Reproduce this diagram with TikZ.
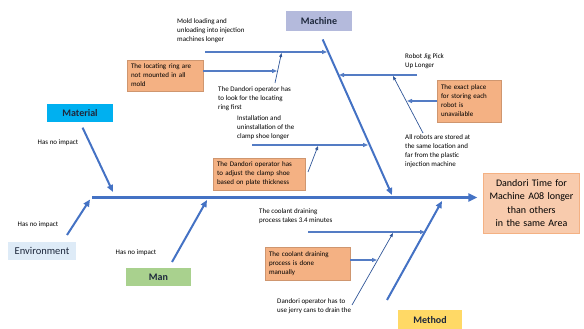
\documentclass[tikz,border=0pt]{standalone}
\usepackage{fontspec}
\setmainfont{Carlito}
\usepackage{tikz}
\usetikzlibrary{arrows.meta}

\definecolor{boneblue}{RGB}{68,114,196}
\definecolor{subblue}{RGB}{84,124,196}
\definecolor{twigblue}{RGB}{47,85,151}
\definecolor{causeorange}{RGB}{244,177,131}
\definecolor{effectorange}{RGB}{248,203,173}
\definecolor{machinefill}{RGB}{180,186,220}
\definecolor{materialfill}{RGB}{0,176,240}
\definecolor{envfill}{RGB}{222,235,247}
\definecolor{manfill}{RGB}{169,209,142}
\definecolor{methodfill}{RGB}{255,217,102}
\definecolor{labeltext}{RGB}{30,40,60}

\begin{document}
\begin{tikzpicture}[x=1pt,y=-1pt,
    catbox/.style={minimum height=18pt,inner sep=2pt,text=labeltext,font=\fontsize{10}{12}\selectfont\bfseries},
    causebox/.style={fill=causeorange,draw=causeorange!85!black,line width=0.3pt,inner sep=4pt,align=left,font=\fontsize{7}{9}\selectfont},
    note/.style={anchor=north west,align=left,inner sep=0pt,font=\fontsize{7}{9}\selectfont},
    spine/.style={line width=3pt,boneblue,-{Triangle[length=9pt,width=8pt]}},
    bone/.style={line width=2pt,boneblue,-{Triangle[length=7pt,width=6pt]}},
    branch/.style={line width=1.1pt,subblue,-{Triangle[length=5pt,width=4pt]}},
    twig/.style={line width=0.7pt,twigblue,-{Triangle[length=4pt,width=3pt]}}]
    \useasboundingbox (0,0) rectangle (584,329);

    % Effect (fish head)
    \node[fill=effectorange,draw=causeorange,line width=0.6pt,text width=89pt,minimum height=60pt,align=center,
          font=\fontsize{10}{13.5}\selectfont] (effect) at (531.5,203)
        {Dandori Time for\\Machine A08 longer\\than others\\in the same Area};

    % Spine
    \coordinate (spineStart) at (92,197.5);
    \draw[spine,shorten >=6pt] (spineStart) -- (spineStart -| effect.west);

    % Category boxes
    \node[catbox,fill=machinefill,minimum width=66pt,minimum height=20pt] (machine) at (319,21) {Machine};
    \node[catbox,fill=materialfill,minimum width=66pt] (material) at (80,113) {Material};
    \node[catbox,fill=envfill,minimum width=68pt,font=\fontsize{10.5}{12}\selectfont] (environment) at (42,250.5) {Environment};
    \node[catbox,fill=manfill,minimum width=65pt] (man) at (158.5,277) {Man};
    \node[catbox,fill=methodfill,minimum width=64pt,minimum height=20pt] (method) at (430,320) {Method};

    % Main bones
    \coordinate (machineHead) at (392,195);
    \coordinate (materialHead) at (113,192);
    \coordinate (envTail) at (67,235);
    \coordinate (envHead) at (90,199.5);
    \coordinate (manTail) at (172,262);
    \coordinate (manHead) at (207,200);
    \coordinate (methodTail) at (387,300);
    \coordinate (methodHead) at (442,201);
    \draw[bone,shorten <=9pt] (machine.south) -- (machineHead);
    \draw[bone,shorten <=6pt] (material.south) -- (materialHead);
    \draw[bone] (envTail) -- (envHead);
    \draw[bone] (manTail) -- (manHead);
    \draw[bone] (methodTail) -- (methodHead);

    % No impact notes
    \node[note,anchor=center] (materialNote) at (58,143) {Has no impact};
    \node[note,anchor=center] (envNote) at (38,225) {Has no impact};
    \node[note,anchor=center] (manNote) at (136,253) {Has no impact};

    % Machine - left branches
    \node[note] (moldNote) at (177,18) {Mold loading and\\unloading into injection\\machines longer};
    \coordinate (moldTail) at (205,52);
    \coordinate (moldHead) at (327,52);
    \draw[branch] (moldTail) -- (moldHead);

    \node[causebox,text width=68pt,minimum height=31pt] (ring) at (165,75.5) {The locating ring are\\not mounted in all\\mold};
    \node[note] (lookNote) at (218,86) {The Dandori operator has\\to look for the locating\\ring first};
    \coordinate (lookTail) at (275,83);
    \coordinate (lookHead) at (281.5,53);
    \draw[twig] (lookTail) -- (lookHead);
    \coordinate (ringHead) at (277,71);
    \draw[branch] (ring.east |- ringHead) -- (ringHead);

    \node[note] (clampNote) at (237,115) {Installation and\\uninstallation of the\\clamp shoe longer};
    \coordinate (clampTail) at (252,145);
    \coordinate (clampHead) at (368,145);
    \draw[branch] (clampTail) -- (clampHead);

    \node[causebox,text width=84pt,minimum height=32pt] (adjust) at (259,174) {The Dandori operator has\\to adjust the clamp shoe\\based on plate thickness};
    \coordinate (adjustTail) at (308,172);
    \coordinate (adjustHead) at (318,146);
    \draw[twig] (adjustTail) -- (adjustHead);

    % Machine - right branches
    \node[note] (robotNote) at (405,53) {Robot Jig Pick\\Up Longer};
    \coordinate (robotTail) at (417,75);
    \coordinate (robotHead) at (339,75);
    \draw[branch] (robotTail) -- (robotHead);

    \node[causebox,text width=56pt,minimum height=42pt] (exact) at (469,101) {The exact place\\for storing each\\robot is\\unavailable};
    \coordinate (exactHead) at (407,101);
    \draw[branch] (exact.west) -- (exactHead);

    \node[note] (allNote) at (405,134) {All robots are stored at\\the same location and\\far from the plastic\\injection machine};
    \coordinate (allTail) at (423,133);
    \coordinate (allHead) at (393,76);
    \draw[twig] (allTail) -- (allHead);

    % Method branches
    \node[note] (coolantNote) at (259,208) {The coolant draining\\process takes 3.4 minutes};
    \coordinate (coolantTail) at (308,232);
    \coordinate (coolantHead) at (425,232);
    \draw[branch] (coolantTail) -- (coolantHead);

    \node[causebox,text width=77pt,minimum height=33pt] (manual) at (307.5,263.5) {The coolant draining\\process is done\\manually};
    \coordinate (manualHead) at (377,260);
    \draw[branch] (manual.east |- manualHead) -- (manualHead);

    \node[note] (jerryNote) at (277,298) {Dandori operator has to\\use jerry cans to drain the};
    \coordinate (jerryTail) at (352,305);
    \coordinate (jerryHead) at (393,233);
    \draw[twig] (jerryTail) -- (jerryHead);
\end{tikzpicture}
\end{document}
